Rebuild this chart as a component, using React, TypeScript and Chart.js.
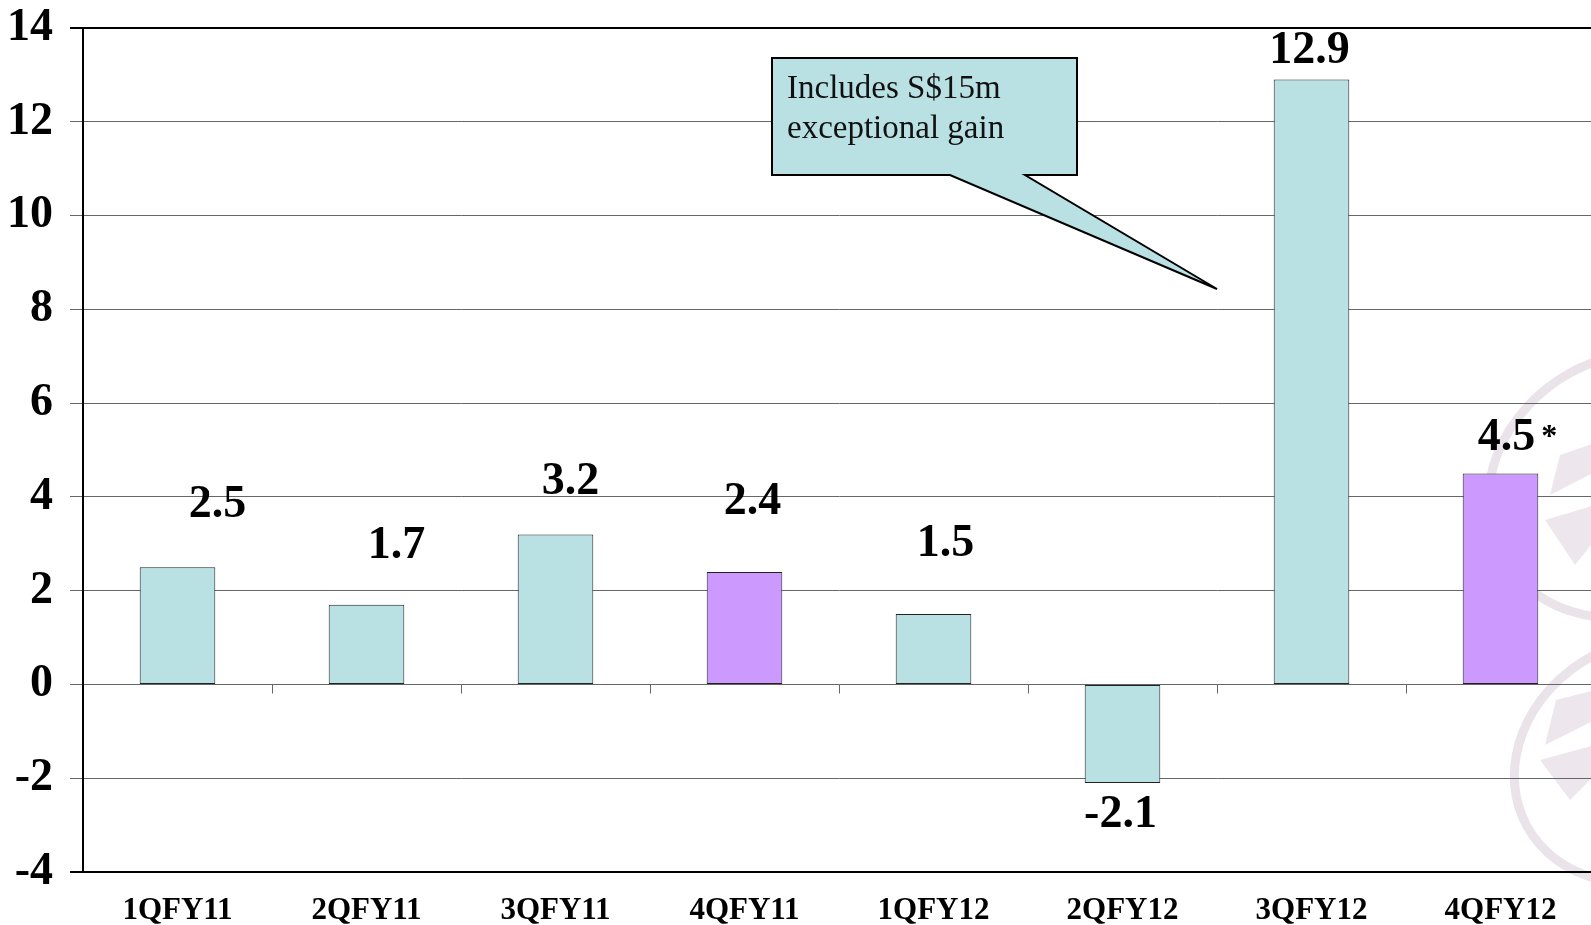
import { useEffect, useRef } from "react";
import { Chart, registerables } from "chart.js";

Chart.register(...registerables);

const categories = ["1QFY11", "2QFY11", "3QFY11", "4QFY11", "1QFY12", "2QFY12", "3QFY12", "4QFY12"];
const values = [2.5, 1.7, 3.2, 2.4, 1.5, -2.1, 12.9, 4.5];
const yTickValues = [-4, -2, 0, 2, 4, 6, 8, 10, 12, 14];
const footnoteMarks = ["", "", "", "", "", "", "", "*"];
const calloutLines = ["Includes S$15m", "exceptional gain"];

const TEAL = "#B9E0E3";
const PURPLE = "#CC99FF";
const FONT = "'Liberation Serif', 'Times New Roman', serif";

// label offsets relative to the bar end (dx, dy of label centre), px
const labelOffsets: [number, number][] = [
  [40, -66], [30, -63], [15, -56], [8, -74], [12, -74], [-2, 28], [-2, -33], [6, -39],
];

const barColors = categories.map((c) => (c.startsWith("4Q") ? PURPLE : TEAL));

const watermarkPlugin = {
  id: "watermark",
  beforeDraw(chart: any) {
    const ctx = chart.ctx;
    ctx.save();
    ctx.strokeStyle = "#EAE3EA";
    ctx.lineWidth = 9;
    ctx.beginPath();
    ctx.ellipse(1632, 485, 148, 128, -0.5, 0, Math.PI * 2);
    ctx.stroke();
    ctx.beginPath();
    ctx.ellipse(1648, 760, 138, 118, -0.5, 0, Math.PI * 2);
    ctx.stroke();
    ctx.fillStyle = "#EDE7ED";
    const quad = (pts: number[]) => {
      ctx.beginPath();
      ctx.moveTo(pts[0], pts[1]);
      for (let i = 2; i < pts.length; i += 2) ctx.lineTo(pts[i], pts[i + 1]);
      ctx.closePath();
      ctx.fill();
    };
    quad([1560, 455, 1595, 443, 1595, 472, 1550, 495]);
    quad([1545, 520, 1595, 505, 1595, 540, 1575, 565]);
    quad([1556, 700, 1595, 690, 1595, 720, 1545, 745]);
    quad([1540, 760, 1595, 745, 1595, 775, 1570, 800]);
    ctx.restore();
  },
};

const decorPlugin = {
  id: "decor",
  afterDatasetsDraw(chart: any) {
    const ctx = chart.ctx;
    const x = chart.scales.x;
    const y = chart.scales.y;
    const y0 = Math.round(y.getPixelForValue(0)) + 0.5;
    ctx.save();
    ctx.strokeStyle = "#666";
    ctx.lineWidth = 1;
    for (let i = 1; i < categories.length; i++) {
      const bx = Math.round((x.getPixelForValue(i - 1) + x.getPixelForValue(i)) / 2) + 0.5;
      ctx.beginPath();
      ctx.moveTo(bx, y0);
      ctx.lineTo(bx, y0 + 9);
      ctx.stroke();
    }
    const meta = chart.getDatasetMeta(0);
    ctx.fillStyle = "#000";
    ctx.textAlign = "center";
    ctx.textBaseline = "alphabetic";
    meta.data.forEach((el: any, i: number) => {
      const [dx, dy] = labelOffsets[i];
      const cx = el.x + dx;
      const cy = el.y + dy;
      ctx.font = `bold 46px ${FONT}`;
      const txt = values[i].toFixed(1);
      ctx.fillText(txt, cx, cy + 16);
      if (footnoteMarks[i]) {
        const w = ctx.measureText(txt).width;
        ctx.font = `bold 32px ${FONT}`;
        ctx.textAlign = "left";
        ctx.fillText(footnoteMarks[i], cx + w / 2 + 6, cy + 12);
        ctx.textAlign = "center";
      }
    });
    ctx.restore();
  },
  afterDraw(chart: any) {
    const ctx = chart.ctx;
    ctx.save();
    const L = 772, T = 58, R = 1077, B = 175;
    ctx.beginPath();
    ctx.moveTo(L, T);
    ctx.lineTo(R, T);
    ctx.lineTo(R, B);
    ctx.lineTo(1025, B);
    ctx.lineTo(1217, 289);
    ctx.lineTo(950, B);
    ctx.lineTo(L, B);
    ctx.closePath();
    ctx.fillStyle = TEAL;
    ctx.fill();
    ctx.strokeStyle = "#000";
    ctx.lineWidth = 2;
    ctx.lineJoin = "miter";
    ctx.stroke();
    ctx.fillStyle = "#111";
    ctx.font = `33px ${FONT}`;
    ctx.textAlign = "left";
    ctx.textBaseline = "alphabetic";
    ctx.fillText(calloutLines[0], 787, 98);
    ctx.fillText(calloutLines[1], 787, 138);
    ctx.restore();
  },
};

export default function App() {
  const ref = useRef<HTMLCanvasElement | null>(null);
  useEffect(() => {
    if (!ref.current) return;
    const chart = new Chart(ref.current, {
      type: "bar",
      data: {
        labels: categories,
        datasets: [
          {
            data: values,
            backgroundColor: barColors,
            borderColor: "#222",
            borderWidth: 1,
            borderSkipped: false,
            barPercentage: 0.4,
            categoryPercentage: 1,
          },
        ],
      },
      options: {
        animation: false,
        responsive: false,
        devicePixelRatio: 1,
        layout: { padding: { top: 28, right: 5, left: 0, bottom: 0 } },
        plugins: { legend: { display: false }, tooltip: { enabled: false } },
        scales: {
          x: {
            grid: { display: false, drawTicks: false },
            border: { display: false },
            ticks: {
              color: "#000",
              font: { family: FONT, size: 31, weight: "bold" },
              padding: 20,
            },
            afterFit: (s: any) => {
              s.height = 53;
              s.paddingLeft = 0;
              s.paddingRight = 0;
            },
          },
          y: {
            min: -4,
            max: 14,
            afterBuildTicks: (s: any) => {
              s.ticks = yTickValues.map((v) => ({ value: v }));
            },
            grid: {
              color: (c: any) => (c.tick && (c.tick.value === 14 || c.tick.value === -4) ? "#000" : "#666"),
              lineWidth: (c: any) => (c.tick && (c.tick.value === 14 || c.tick.value === -4) ? 2 : 1),
              tickLength: 13,
            },
            border: { display: true, color: "#000", width: 2 },
            ticks: {
              color: "#000",
              font: { family: FONT, size: 46, weight: "bold" },
              padding: 17,
            },
            afterFit: (s: any) => {
              s.width = 83;
              s.paddingTop = 0;
              s.paddingBottom = 0;
            },
          },
        },
      },
      plugins: [watermarkPlugin, decorPlugin],
    });
    return () => chart.destroy();
  }, []);
  return (
    <div style={{ position: "absolute", left: 0, top: 0, width: 1591, height: 925, overflow: "hidden", background: "#fff" }}>
      <canvas ref={ref} width={1600} height={925} style={{ width: 1600, height: 925, display: "block" }} />
    </div>
  );
}
